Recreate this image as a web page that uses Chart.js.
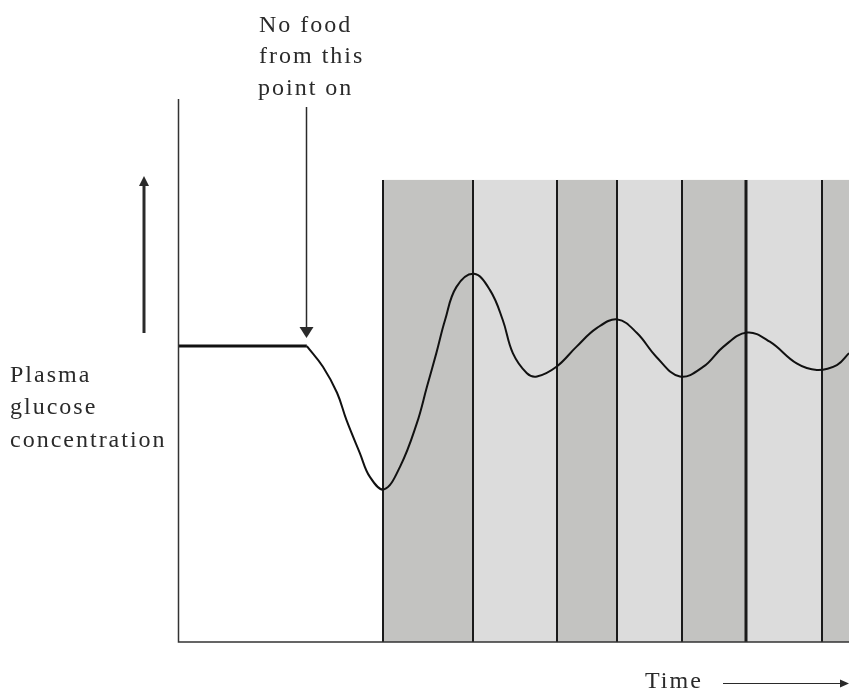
<!DOCTYPE html>
<html lang="en">
<head>
  <meta charset="UTF-8" />
  <title>Plasma glucose during fasting</title>
  <script src="https://cdn.jsdelivr.net/npm/chart.js"></script>
  <style>
    body { margin: 0; background: #fff; }
    #wrap { width: 849px; height: 694px; }
  </style>
</head>
<body>
  <div id="wrap"><canvas id="glucoseChart" width="849" height="694"></canvas></div>

  <script>
    // time axis (arbitrary units 0..100) and plasma glucose (arbitrary units 0..100)
    const fedTime = [0, 19.2];
    const fedGlucose = [54.5, 54.5];

    const fastTime = [19.2, 21.6, 23.7, 25.1, 27.1, 28.6, 30.7, 33.1, 35.6, 37.1, 38.5, 39.8, 41.5, 44.1,
      46.5, 48.4, 49.9, 52.0, 53.5, 56.4, 59.4, 62.4, 65.5, 68.4, 71.3, 74.8, 78.3, 81.3, 84.8,
      88.2, 92.2, 95.2, 98.2, 100];
    const fastGlucose = [54.5, 50.7, 45.9, 40.9, 34.8, 30.4, 28.1, 32.3, 40.3, 47.0, 53.2, 59.3, 65.4, 67.8,
      64.8, 59.3, 53.2, 49.5, 48.9, 50.7, 54.4, 57.8, 59.4, 56.9, 52.5, 48.9, 50.7, 54.4, 57.0,
      55.3, 51.3, 50.1, 51.0, 53.2];

    // shaded periods after food stops
    const bandEdges = [30.55, 43.96, 56.48, 65.42, 75.11, 84.65, 95.98, 100];
    const bandShades = ['dark', 'light', 'dark', 'light', 'dark', 'light', 'dark'];
    const bandTop = 85.1;
    const bandColors = { dark: '#c3c3c1', light: '#dcdcdc' };

    const FONT = '24px "Liberation Serif", "Times New Roman", serif';
    const INK = '#2a2a2a';

    function toPoints(xs, ys) {
      return xs.map((x, i) => ({ x: x, y: ys[i] }));
    }

    function arrowHead(ctx, x, y, dir, len, half) {
      // dir: 'down', 'up', 'right'
      ctx.beginPath();
      if (dir === 'down') {
        ctx.moveTo(x, y); ctx.lineTo(x - half, y - len); ctx.lineTo(x + half, y - len);
      } else if (dir === 'up') {
        ctx.moveTo(x, y); ctx.lineTo(x - half, y + len); ctx.lineTo(x + half, y + len);
      } else {
        ctx.moveTo(x, y); ctx.lineTo(x - len, y - half); ctx.lineTo(x - len, y + half);
      }
      ctx.closePath();
      ctx.fill();
    }

    const bandsPlugin = {
      id: 'bands',
      beforeDatasetsDraw(chart) {
        const { ctx, chartArea, scales } = chart;
        const yTop = scales.y.getPixelForValue(bandTop);
        ctx.save();
        for (let i = 0; i < bandShades.length; i++) {
          const x0 = scales.x.getPixelForValue(bandEdges[i]);
          const x1 = scales.x.getPixelForValue(bandEdges[i + 1]);
          ctx.fillStyle = bandColors[bandShades[i]];
          ctx.fillRect(x0, yTop, x1 - x0, chartArea.bottom - yTop);
        }
        ctx.strokeStyle = '#1a1a1a';
        for (let i = 0; i < bandEdges.length - 1; i++) {
          const x = Math.round(scales.x.getPixelForValue(bandEdges[i]));
          ctx.lineWidth = i === 5 ? 3 : 2;
          ctx.beginPath();
          ctx.moveTo(x, yTop);
          ctx.lineTo(x, chartArea.bottom);
          ctx.stroke();
        }
        ctx.restore();
      }
    };

    const annotatePlugin = {
      id: 'annotate',
      afterDatasetsDraw(chart) {
        const { ctx, chartArea, scales } = chart;
        ctx.save();

        // axes
        ctx.strokeStyle = '#333';
        ctx.lineWidth = 1.5;
        ctx.beginPath();
        ctx.moveTo(chartArea.left + 0.5, chartArea.top);
        ctx.lineTo(chartArea.left + 0.5, chartArea.bottom);
        ctx.lineTo(chartArea.right, chartArea.bottom);
        ctx.stroke();

        ctx.fillStyle = INK;
        ctx.strokeStyle = INK;

        // "no food" arrow
        const ax = Math.round(scales.x.getPixelForValue(fedTime[1])) - 0.5;
        const tipY = scales.y.getPixelForValue(fedGlucose[1]) - 8;
        ctx.lineWidth = 1.5;
        ctx.beginPath();
        ctx.moveTo(ax, 107);
        ctx.lineTo(ax, tipY - 8);
        ctx.stroke();
        arrowHead(ctx, ax, tipY, 'down', 11, 7);

        // y direction arrow
        ctx.lineWidth = 3;
        ctx.beginPath();
        ctx.moveTo(144, 333);
        ctx.lineTo(144, 184);
        ctx.stroke();
        arrowHead(ctx, 144, 176, 'up', 10, 5);

        // time arrow
        ctx.lineWidth = 1;
        ctx.beginPath();
        ctx.moveTo(723, 683.5);
        ctx.lineTo(842, 683.5);
        ctx.stroke();
        arrowHead(ctx, 849, 683.5, 'right', 9, 4);

        // labels
        ctx.font = FONT;
        ctx.letterSpacing = '2px';
        ctx.textAlign = 'left';
        ctx.textBaseline = 'alphabetic';
        ctx.fillText('No food', 259, 32);
        ctx.fillText('from this', 259, 63);
        ctx.fillText('point on', 258, 95);
        ctx.fillText('Plasma', 10, 382);
        ctx.fillText('glucose', 10, 414);
        ctx.fillText('concentration', 10, 447);
        ctx.fillText('Time', 645, 688);

        ctx.restore();
      }
    };

    new Chart(document.getElementById('glucoseChart'), {
      type: 'line',
      data: {
        datasets: [
          {
            data: toPoints(fedTime, fedGlucose),
            borderColor: '#111',
            borderWidth: 3,
            pointRadius: 0
          },
          {
            data: toPoints(fastTime, fastGlucose),
            borderColor: '#111',
            borderWidth: 2,
            pointRadius: 0,
            tension: 0.4
          }
        ]
      },
      options: {
        responsive: false,
        animation: false,
        devicePixelRatio: 1,
        layout: { padding: { left: 178, right: 0, top: 99, bottom: 52 } },
        scales: {
          x: { type: 'linear', min: 0, max: 100, display: false },
          y: { min: 0, max: 100, display: false }
        },
        plugins: {
          legend: { display: false },
          tooltip: { enabled: false }
        }
      },
      plugins: [bandsPlugin, annotatePlugin]
    });
  </script>
</body>
</html>
